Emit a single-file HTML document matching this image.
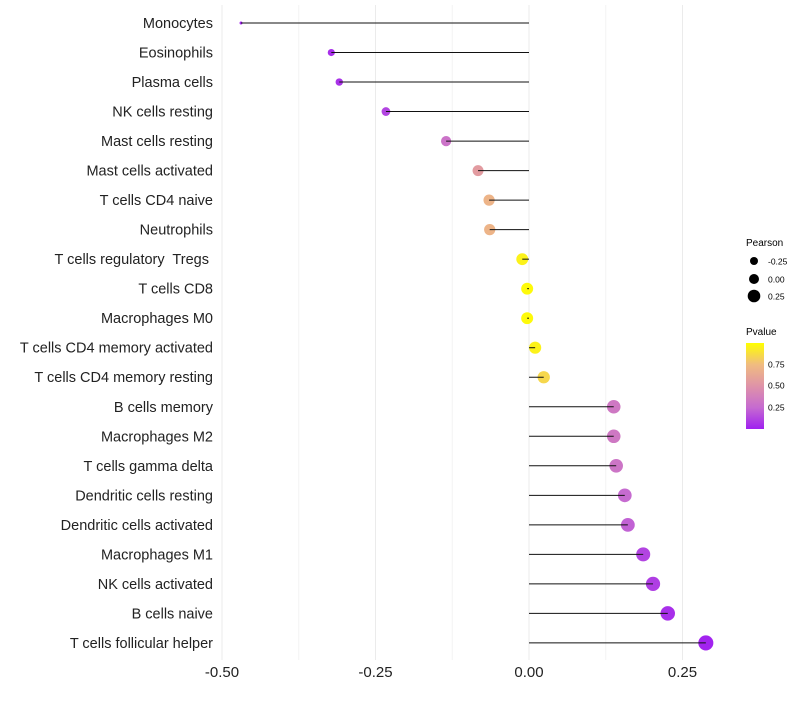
<!DOCTYPE html>
<html><head><meta charset="utf-8"><style>
body{margin:0;background:#fff;}
svg text{font-family:"Liberation Sans",sans-serif;}
</style></head><body>
<svg id="chart" width="800" height="700">
<g id="grid"></g>
<g id="points"></g>
<g id="marks"></g>
<g id="labels"></g>
<g id="xticks"></g>
<g>
<text x="746" y="246" font-size="10">Pearson</text>
<circle cx="754" cy="261" r="4" fill="#000"/>
<text x="768" y="264.5" font-size="8.5">-0.25</text>
<circle cx="754" cy="279" r="5" fill="#000"/>
<text x="768" y="282.5" font-size="8.5">0.00</text>
<circle cx="754" cy="296" r="6.3" fill="#000"/>
<text x="768" y="299.5" font-size="8.5">0.25</text>
</g>
<g>
<defs><linearGradient id="pg" x1="0" y1="1" x2="0" y2="0">
<stop offset="0" stop-color="#a020f0"/><stop offset="0.25" stop-color="#c66bd0"/><stop offset="0.5" stop-color="#df93a8"/><stop offset="0.75" stop-color="#f0bc80"/><stop offset="1" stop-color="#ffff00"/></linearGradient></defs>
<text x="746" y="335" font-size="10">Pvalue</text>
<rect x="746" y="343" width="18" height="86" fill="url(#pg)"/>
<text x="768" y="367.5" font-size="8.5">0.75</text>
<text x="768" y="388.5" font-size="8.5">0.50</text>
<text x="768" y="410.5" font-size="8.5">0.25</text>
</g>
</svg>
<script>
const categories=["Monocytes","Eosinophils","Plasma cells","NK cells resting","Mast cells resting","Mast cells activated","T cells CD4 naive","Neutrophils","T cells regulatory  Tregs ","T cells CD8","Macrophages M0","T cells CD4 memory activated","T cells CD4 memory resting","B cells memory","Macrophages M2","T cells gamma delta","Dendritic cells resting","Dendritic cells activated","Macrophages M1","NK cells activated","B cells naive","T cells follicular helper"];
const pearson=[-0.469,-0.322,-0.309,-0.233,-0.135,-0.083,-0.065,-0.064,-0.011,-0.003,-0.003,0.010,0.024,0.138,0.138,0.142,0.156,0.161,0.186,0.202,0.226,0.288];
const pvalue=[0.01,0.05,0.06,0.12,0.3,0.55,0.7,0.7,0.95,0.98,0.98,0.95,0.85,0.33,0.33,0.31,0.25,0.22,0.12,0.1,0.05,0.01];
const xTicks=[-0.5,-0.25,0,0.25];
const xTickLabels=["-0.50","-0.25","0.00","0.25"];
const NS="http://www.w3.org/2000/svg";
const X=v=>529+v*614;
const Y=i=>23+i*29.52;
function col(p){const s=[[0,[160,32,240]],[0.25,[198,107,208]],[0.5,[223,147,168]],[0.75,[240,188,128]],[1,[255,255,0]]];
for(let k=1;k<s.length;k++){if(p<=s[k][0]){const t=(p-s[k-1][0])/(s[k][0]-s[k-1][0]);const a=s[k-1][1],b=s[k][1];return `rgb(${a.map((c,j)=>Math.round(c+(b[j]-c)*t)).join(",")})`;}}return "rgb(255,255,0)";}
function mk(tag,attrs,parent){const e=document.createElementNS(NS,tag);for(const k in attrs)e.setAttribute(k,attrs[k]);document.getElementById(parent).appendChild(e);return e;}
for(let k=0;k<7;k++){const v=-0.5+k*0.125;const l=mk("line",{x1:X(v),x2:X(v),y1:5,y2:660,stroke:k%2?"#f4f4f4":"#ebebeb","stroke-width":1},"grid");

}
xTicks.forEach((v,i)=>{const t=mk("text",{x:X(v),y:677,"font-size":15,"text-anchor":"middle",fill:"#222"},"xticks");t.textContent=xTickLabels[i];

});
categories.forEach((c,i)=>{
const t=mk("text",{x:213,y:Y(i)+5,"font-size":14.5,"text-anchor":"end",fill:"#222",style:"white-space:pre"},"labels");t.textContent=c;


const r=Math.sqrt(Math.max(2.25,2.25+72*(pearson[i]+0.469)));
const d=mk("circle",{cx:X(pearson[i]),cy:Y(i),r:r,fill:col(pvalue[i])},"points");


const l=mk("line",{x1:X(0),x2:X(pearson[i]),y1:Y(i),y2:Y(i),stroke:"#111","stroke-width":1},"marks");


});
</script>
</body></html>
